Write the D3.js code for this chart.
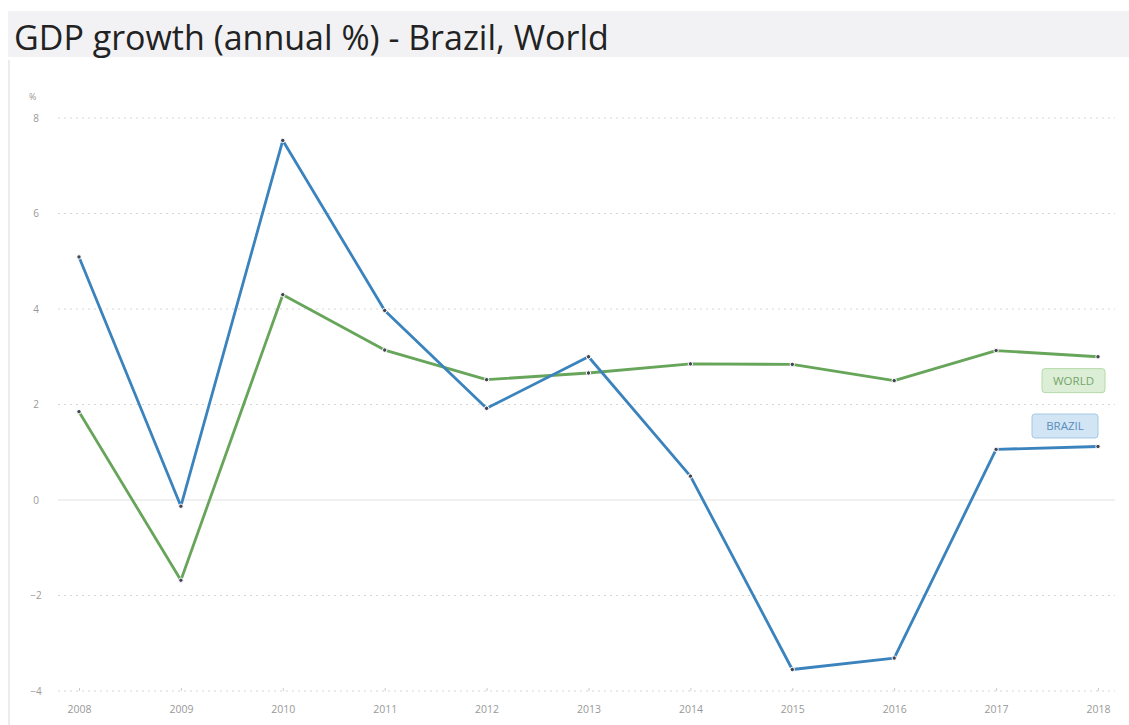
<!DOCTYPE html>
<html><head><meta charset="utf-8">
<script src="https://cdn.jsdelivr.net/npm/d3@7"></script>
<style>body{margin:0;background:#fff;}svg{display:block;}</style>
</head><body>
<script>
const years = [2008,2009,2010,2011,2012,2013,2014,2015,2016,2017,2018];
const brazil = [5.09,-0.13,7.53,3.97,1.92,3.0,0.5,-3.55,-3.31,1.06,1.12];
const world = [1.85,-1.68,4.3,3.14,2.52,2.66,2.85,2.84,2.5,3.13,3.0];
const yTicks = [-4,-2,0,2,4,6,8];
const title = "GDP growth (annual %) - Brazil, World";

const W = 1129, H = 725;
const svg = d3.select("body").append("svg").attr("width", W).attr("height", H);

// title bar
svg.append("rect").attr("x", 8).attr("y", 11).attr("width", W - 8).attr("height", 46).attr("fill", "#f2f2f5");
svg.append("text").attr("x", 14).attr("y", 50).text(title)
  .attr("font-family", "'Open Sans', sans-serif").attr("font-size", 34).attr("font-weight", 500).attr("fill", "#222");
// left border
svg.append("rect").attr("x", 8).attr("y", 60).attr("width", 2).attr("height", H - 60).attr("fill", "#ececec");

const x = d3.scalePoint().domain(years).range([79, 1098]);
const y = d3.scaleLinear().domain([-4, 8]).range([691, 118]);

// grid
const g = svg.append("g");
yTicks.forEach(t => {
  g.append("line").attr("x1", 58).attr("x2", 1115).attr("y1", y(t)).attr("y2", y(t))
    .attr("stroke", t === 0 ? "#ebebeb" : "#d6d6d6")
    .attr("stroke-width", t === 0 ? 1.5 : 1)
    .attr("stroke-dasharray", t === 0 ? null : "2,4");
});

const yAxis = d3.axisLeft(y).tickValues(yTicks).tickSize(0).tickPadding(0);
svg.append("g").attr("transform", "translate(36,0)").call(yAxis)
  .call(s => s.select(".domain").remove())
  .call(s => s.selectAll("text").attr("font-family", "'Open Sans', sans-serif").attr("font-size", 10).attr("fill", "#999").attr("text-anchor", "middle"));
svg.append("text").attr("x", 29).attr("y", 100).text("%").attr("font-family", "'Open Sans', sans-serif").attr("font-size", 9).attr("fill", "#999");

const xAxis = d3.axisBottom(x).tickSize(3).tickPadding(15);
svg.append("g").attr("transform", `translate(0,${y(-4) - 3})`).call(xAxis)
  .call(s => s.select(".domain").remove())
  .call(s => s.selectAll("line").attr("stroke", "#ccc"))
  .call(s => s.selectAll("text").attr("font-family", "'Open Sans', sans-serif").attr("font-size", 10.5).attr("fill", "#999"));

const line = d3.line().x((d, i) => x(years[i])).y(d => y(d));
const series = [
  {name: "WORLD", vals: world, color: "#67a55a", fill: "#dcefd6", stroke: "#b5d9a9", text: "#74a46a"},
  {name: "BRAZIL", vals: brazil, color: "#3a83bd", fill: "#d1e5f5", stroke: "#a5c8e4", text: "#5a8dbd"}
];
series.forEach(s => {
  svg.append("path").datum(s.vals).attr("d", line).attr("fill", "none")
    .attr("stroke", s.color).attr("stroke-width", 2.8).attr("stroke-linejoin", "round");
  svg.selectAll(null).data(s.vals).enter().append("circle")
    .attr("cx", (d, i) => x(years[i])).attr("cy", d => y(d)).attr("r", 2.2)
    .attr("fill", "#445").attr("stroke", "#fff").attr("stroke-width", 1);
});

// labels
const labels = [
  {s: series[0], x1: 1042, x2: 1105, yc: y(2.5)},
  {s: series[1], x1: 1032, x2: 1098, yc: y(1.55)}
];
labels.forEach(l => {
  svg.append("rect").attr("x", l.x1).attr("y", l.yc - 12).attr("width", l.x2 - l.x1).attr("height", 24)
    .attr("rx", 3).attr("fill", l.s.fill).attr("stroke", l.s.stroke).attr("stroke-width", 1);
  svg.append("text").attr("x", (l.x1 + l.x2) / 2).attr("y", l.yc + 4).attr("text-anchor", "middle")
    .text(l.s.name).attr("font-family", "'Open Sans', sans-serif").attr("font-size", 11.5).attr("fill", l.s.text);
});
</script>
</body></html>
